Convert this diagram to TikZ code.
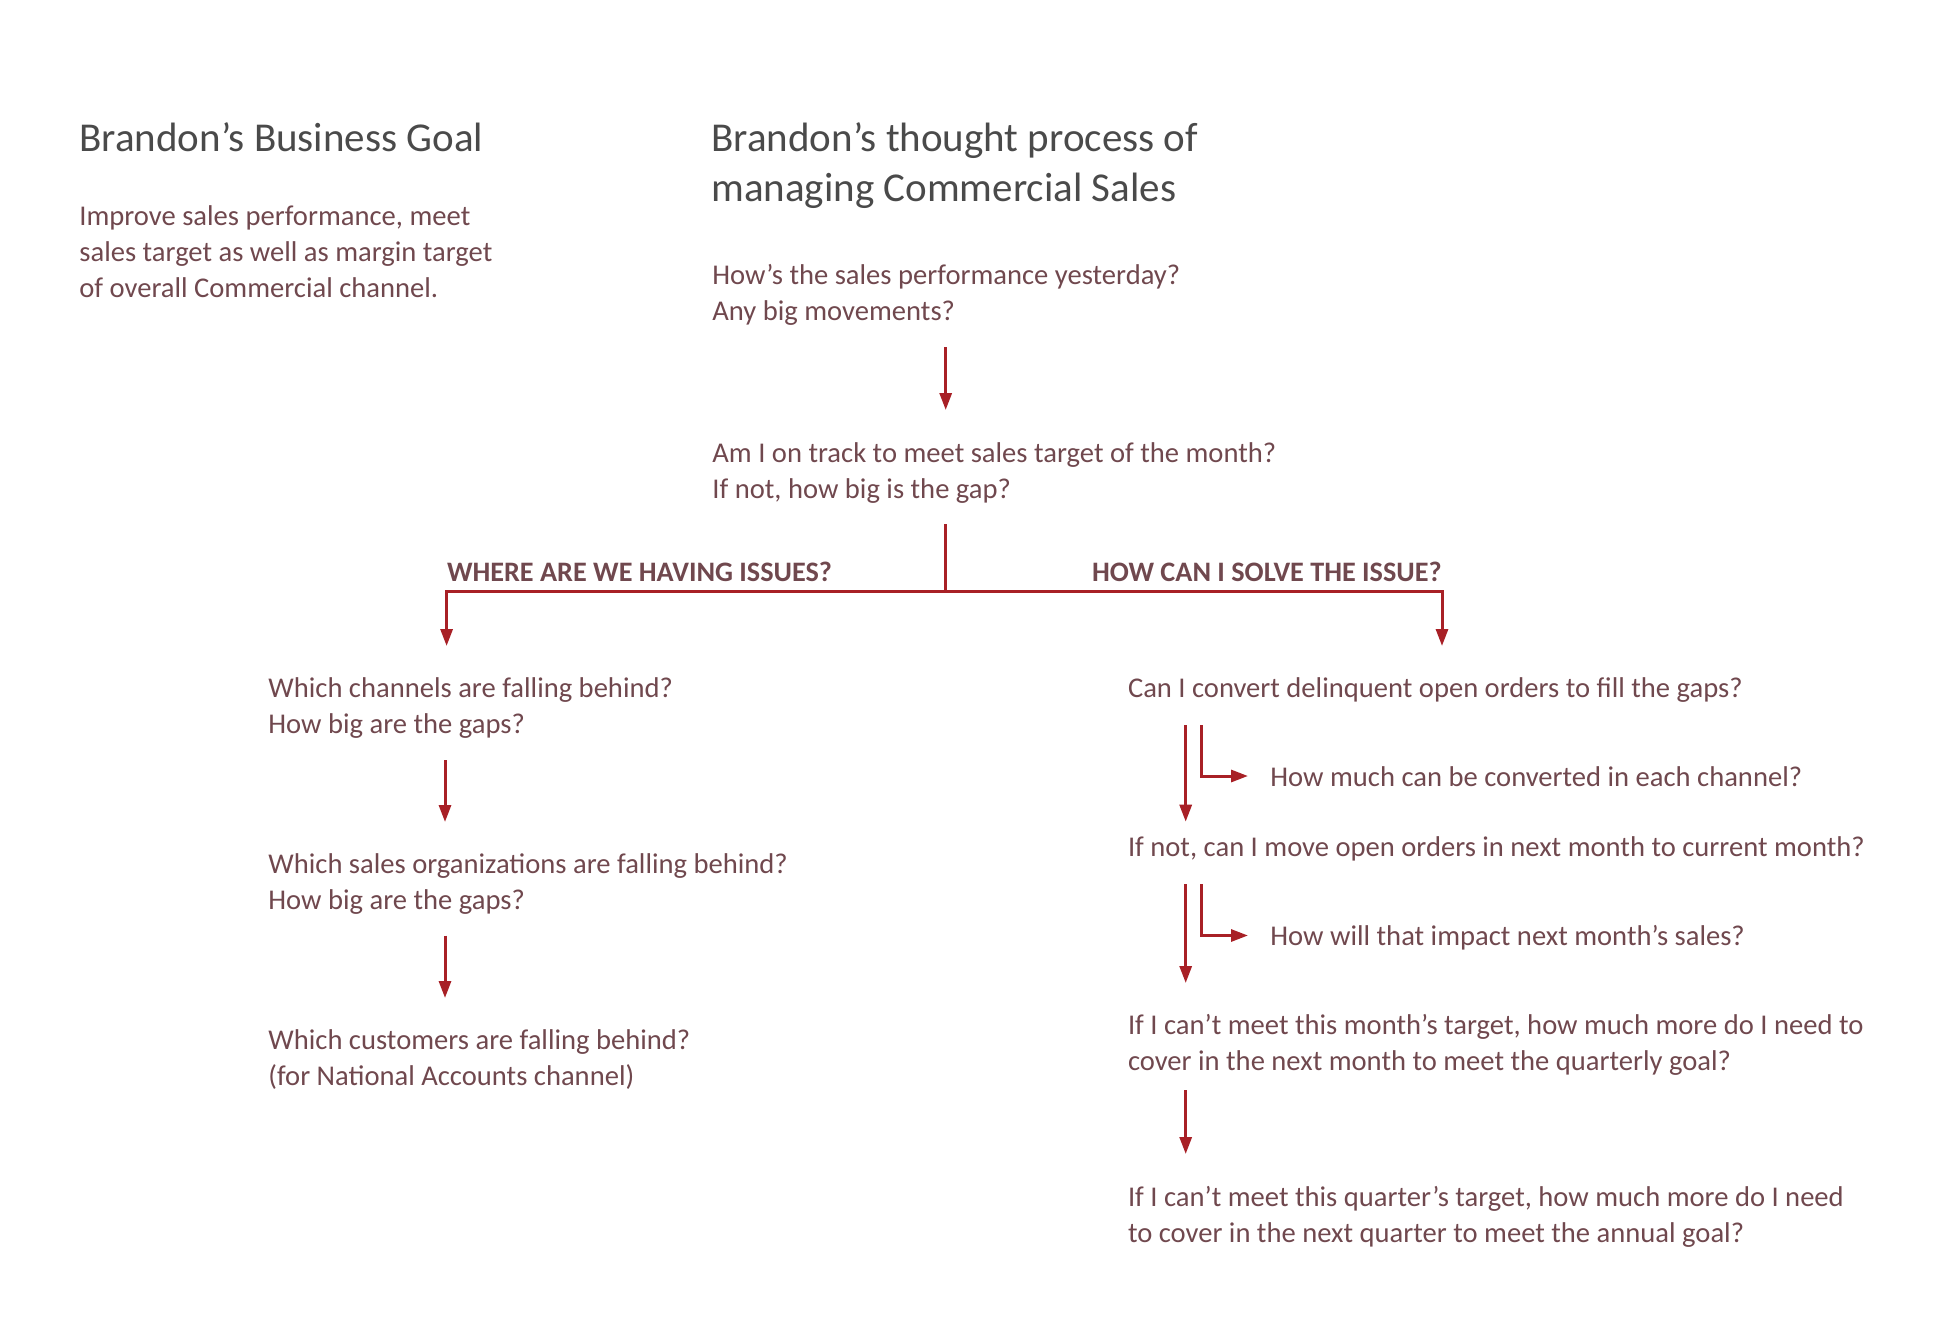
\documentclass[tikz,border=0pt]{standalone}
\usepackage{fontspec}
\setmainfont{Carlito}
\usepackage{tikz}
\usetikzlibrary{arrows.meta}
\definecolor{titlegray}{RGB}{74,74,74}
\definecolor{textbrown}{RGB}{112,72,78}
\definecolor{arrowred}{RGB}{168,32,38}
\begin{document}
\begin{tikzpicture}[x=0.5pt,y=-0.5pt,>={Triangle[length=8.5pt,width=6pt]},
  title/.style={anchor=base west,inner sep=0pt,align=left,text=titlegray,font=\fontsize{20.5}{25}\selectfont},
  quest/.style={anchor=base west,inner sep=0pt,align=left,text=textbrown,font=\fontsize{14.3}{18}\selectfont},
  branch/.style={inner sep=0pt,text=textbrown,font=\fontsize{14.1}{16}\selectfont\bfseries},
  link/.style={draw=arrowred,line width=1.5pt}]
\useasboundingbox (0,0) rectangle (1956,1328);
% headings (multi-line nodes sit on the baseline of their last line)
\node[title] (goalT) at (79,151) {Brandon’s Business Goal};
\node[quest] (goal) at (79,297) {Improve sales performance, meet\\sales target as well as margin target\\of overall Commercial channel.};
\node[title] (procT) at (711,201) {Brandon’s thought process of\\managing Commercial Sales};
% main line
\node[quest] (q1) at (712,320) {How’s the sales performance yesterday?\\Any big movements?};
\node[quest] (q2) at (712,498) {Am I on track to meet sales target of the month?\\If not, how big is the gap?};
\node[branch,anchor=base west] (lblL) at (446.6,581) {WHERE ARE WE HAVING ISSUES?};
\node[branch,anchor=base east] (lblR) at (1442,581) {HOW CAN I SOLVE THE ISSUE?};
% left branch
\node[quest] (l1) at (268,733) {Which channels are falling behind?\\How big are the gaps?};
\node[quest] (l2) at (268,909) {Which sales organizations are falling behind?\\How big are the gaps?};
\node[quest] (l3) at (268,1085) {Which customers are falling behind?\\(for National Accounts channel)};
% right branch
\node[quest] (r1) at (1127.6,697) {Can I convert delinquent open orders to fill the gaps?};
\node[quest] (r1a) at (1270,786) {How much can be converted in each channel?};
\node[quest] (r2) at (1127.6,856) {If not, can I move open orders in next month to current month?};
\node[quest] (r2a) at (1270,945.5) {How will that impact next month’s sales?};
\node[quest] (r3) at (1127.6,1070) {If I can’t meet this month’s target, how much more do I need to\\cover in the next month to meet the quarterly goal?};
\node[quest] (r4) at (1127.6,1242) {If I can’t meet this quarter’s target, how much more do I need\\to cover in the next quarter to meet the annual goal?};
% connector ends
\coordinate (a1s) at (945.7,347);  \coordinate (a1e) at (945.7,410);
\coordinate (trk) at (945.7,524);  \coordinate (fork) at (945.7,591);
\coordinate (forkL) at (446.6,591); \coordinate (forkR) at (1442,591);
\coordinate (dnL) at (446.6,646);  \coordinate (dnR) at (1442,646);
\coordinate (b1s) at (445,760);    \coordinate (b1e) at (445,822);
\coordinate (b2s) at (445,935.5);  \coordinate (b2e) at (445,998);
\coordinate (c1s) at (1185.7,725); \coordinate (c1e) at (1185.7,821.7);
\coordinate (c2s) at (1185.7,884); \coordinate (c2e) at (1185.7,983);
\coordinate (c3s) at (1185.7,1090); \coordinate (c3e) at (1185.7,1154);
\coordinate (s1s) at (1201.7,725); \coordinate (s1e) at (1248,776);
\coordinate (s2s) at (1201.7,884); \coordinate (s2e) at (1248,935.5);
% connectors
\draw[link,->] (a1s) -- (a1e);
\draw[link] (trk) -- (fork);
\draw[link,->] (fork) -- (forkL) -- (dnL);
\draw[link,->] (fork) -- (forkR) -- (dnR);
\draw[link,->] (b1s) -- (b1e);
\draw[link,->] (b2s) -- (b2e);
\draw[link,->] (c1s) -- (c1e);
\draw[link,->] (c2s) -- (c2e);
\draw[link,->] (c3s) -- (c3e);
\draw[link,->] (s1s) |- (s1e);
\draw[link,->] (s2s) |- (s2e);
\end{tikzpicture}
\end{document}
